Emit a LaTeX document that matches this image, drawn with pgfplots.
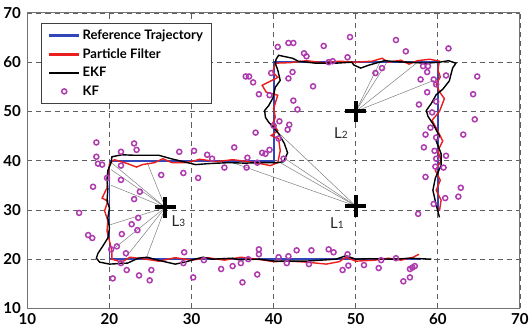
\documentclass[border=0pt]{standalone}
\usepackage{fontspec}
\setmainfont{Lato}
\usepackage{pgfplots}
\pgfplotsset{compat=1.18}
\definecolor{refblue}{RGB}{50,70,185}
\definecolor{pfred}{RGB}{235,30,30}
\definecolor{kfmag}{RGB}{175,60,175}
\definecolor{gridgray}{RGB}{95,95,95}
\pgfplotsset{kflegend/.style={legend image code/.code={\draw[mark repeat=2,mark phase=2,##1] plot coordinates {(0pt,0pt) (15pt,0pt) (30pt,0pt)};}}}
\begin{document}
\begin{tikzpicture}
\begin{axis}[
  width=490pt, height=294pt, scale only axis,
  xmin=10, xmax=70, ymin=10, ymax=70,
  xtick={10,20,...,70}, ytick={10,20,...,70},
  grid=major,
  grid style={gridgray, line width=0.7pt, dash pattern=on 5pt off 4pt},
  major tick length=0pt,
  axis line style={black!55, line width=0.9pt},
  tick label style={font=\fontsize{15}{15}\selectfont\bfseries},
  yticklabel style={xshift=-3pt},
  xticklabel style={yshift=-1pt},
  /pgf/number format/assume math mode=true,
  legend style={at={(0.0286,0.966)}, anchor=north west, draw=black!75, line width=0.8pt,
    font=\fontsize{13}{15}\selectfont\bfseries, row sep=3.5pt, inner xsep=6pt, inner ysep=4.5pt,
    cells={anchor=west}},
  legend image code/.code={\draw[#1, line width=2.5pt] (0pt,0pt) -- (30pt,0pt);},
]
% bearing lines (gray)
\addplot[gray, line width=0.5pt, forget plot] coordinates {(26.8,30.5) (20.3,39.5)};
\addplot[gray, line width=0.5pt, forget plot] coordinates {(26.8,30.5) (20.2,38.2)};
\addplot[gray, line width=0.5pt, forget plot] coordinates {(26.8,30.5) (20.2,35.0)};
\addplot[gray, line width=0.5pt, forget plot] coordinates {(26.8,30.5) (24.6,39.6)};
\addplot[gray, line width=0.5pt, forget plot] coordinates {(26.8,30.5) (20.1,27.0)};
\addplot[gray, line width=0.5pt, forget plot] coordinates {(26.8,30.5) (20.8,22.5)};
\addplot[gray, line width=0.5pt, forget plot] coordinates {(26.8,30.5) (22.0,20.4)};
\addplot[gray, line width=0.5pt, forget plot] coordinates {(26.8,30.5) (24.5,20.3)};
\addplot[gray, line width=0.5pt, forget plot] coordinates {(50,30.8) (40.7,45.5)};
\addplot[gray, line width=0.5pt, forget plot] coordinates {(50,30.8) (41.5,40.3)};
\addplot[gray, line width=0.5pt, forget plot] coordinates {(50,30.8) (40.8,39.6)};
\addplot[gray, line width=0.5pt, forget plot] coordinates {(50,30.8) (35.0,39.6)};
\addplot[gray, line width=0.5pt, forget plot] coordinates {(50,50) (53.0,60.2)};
\addplot[gray, line width=0.5pt, forget plot] coordinates {(50,50) (53.8,60.0)};
\addplot[gray, line width=0.5pt, forget plot] coordinates {(50,50) (57.4,59.8)};
\addplot[gray, line width=0.5pt, forget plot] coordinates {(50,50) (59.5,56.3)};
% reference trajectory
\addplot[refblue, line width=1.8pt] coordinates {
(60,29.5) (60,60) (40,60) (40,40) (20,40) (20,20) (58,20)};
\addlegendentry{Reference Trajectory}
% particle filter
\addplot[pfred, line width=1.4pt] coordinates {
(60.2,29.8) (60.4,32) (59.8,34) (60.3,36) (59.7,38) (60.4,40) (60.0,42) (60.6,44) (60.0,46)
(59.3,48.2) (60.2,50) (60.8,52.6) (60.2,54) (59.8,55.5) (60.3,57) (60.0,58.5) (60.2,60.2)
(59.0,60.6) (57.5,60.3) (56.5,59.6) (55.5,60.4) (54,60.0) (53.2,60.8) (52,60.2) (50,60.0)
(48,60.2) (46,59.9) (44,60.3) (42,59.9) (40.2,59.8) (39.9,58.0) (40.5,56.9) (38.6,55.3)
(39.1,53.9) (40.5,53.3) (40.0,50.6) (40.2,48.8) (39.9,47.6) (40.5,46.1) (39.7,45.1)
(40.6,44.5) (40.8,42.0) (40.5,39.6) (39.6,39.0) (38.4,39.4) (37,39.8) (35,40.2) (33,39.8)
(31,40.3) (30.4,40.0) (29.2,39.6) (27.6,39.6) (26.5,40.4) (25.5,39.6) (24,39.2) (23.3,38.7)
(22.2,39.4) (20.6,40.2) (20.0,39.4) (19.8,36.5) (19.7,34.5) (19.1,32.4) (19.8,31.8)
(19.4,29.8) (19.8,27.8) (19.7,25.7) (20.0,23.7) (20.3,21.6) (20.3,20.0) (21.5,19.4)
(22.5,20.4) (24,20.1) (26,19.6) (28,20.3) (30,19.8) (32,20.3) (34,19.8) (36,20.4) (38,20.0)
(40,19.5) (42,19.6) (44,19.4) (46.4,19.0) (48,19.5) (48.8,20.4) (50,19.6) (52.3,19.8)
(54,20.2) (55.5,19.8) (57,20.4) (57.7,21.0)};
\addlegendentry{Particle Filter}
% EKF
\addplot[black, line width=1.4pt] coordinates {
(60.2,28.5) (59.8,31) (59.4,34) (59.7,36.5) (60.4,39) (60.4,41.4) (59.8,44) (60.2,45)
(59.4,47.5) (58.8,49.0) (58.6,50.2) (59.2,51.6) (59.8,53.4) (60.6,54.5) (61.4,56.2)
(61.8,58.8) (62.2,59.8) (61.3,60.3) (60.2,60.0) (58.6,59.8) (57.4,59.9) (55,60.1)
(53.5,60.3) (51.6,59.4) (50.6,58.8) (49.8,59.4) (49.5,60.0) (47.6,59.8) (45.1,59.8)
(43,60.2) (42.3,60.8) (40.6,61.4) (40.3,60.6) (40.2,59.8) (40.5,58.4) (40.8,56.3)
(40.2,54.9) (39.9,52.7) (39.4,51.2) (38.9,50.2) (39.0,48.8) (39.4,47.8) (40.0,46.7)
(40.6,45.5) (41.3,43.5) (41.7,41.6) (41.2,39.8) (40.5,39.6) (38,39.6) (36.6,39.5)
(34.5,39.6) (32,39.4) (30.5,39.2) (29,39.8) (27.5,40.4) (26,41.1) (23,41.1) (21.5,41.2)
(20.3,40.8) (20.2,39.6) (19.8,38.0) (19.7,36.3) (19.8,34.3) (19.7,31.8) (20.0,30.4)
(19.8,28.4) (20.0,26.3) (19.8,24.3) (19.2,22.7) (18.6,21.2) (18.4,20.2) (18.8,19.4)
(20.0,19.0) (22.2,19.2) (23.5,20.2) (24.6,20.4) (25.9,19.8) (28.0,19.0) (29.2,19.4)
(30.4,20.0) (31.4,20.4) (32.5,20.0) (35.0,20.2) (35.7,19.9) (38.2,20.0) (40.2,19.6)
(43.9,19.6) (47.6,20.0) (48.8,20.7) (50.0,20.0) (51.6,20.1) (54.9,20.0) (56.5,20.2)
(59.2,20.0)};
\addlegendentry{EKF}
% KF
\addplot[only marks, mark=o, mark size=2.5pt, kfmag, line width=1.5pt,
  mark options={fill=kfmag!30}, kflegend]
coordinates {
(18.4,43.7) (18.4,40.8) (18.6,39.4) (19.1,39.2) (21.4,41.8) (23.0,43.5) (23.3,42.2) (21.4,39.0)
(28.5,41.8) (30.3,42.0) (31.9,41.2) (32.5,40.4) (36.8,40.6) (35.2,42.7) (38.6,41.6) (39.0,41.4)
(39.5,42.2) (34.0,38.6) (36.7,38.6) (38.0,39.6) (41.2,40.4)
(19.7,36.5) (18.0,34.7) (16.3,29.4) (17.4,24.9) (17.9,24.3) (21.4,36.1) (26.3,37.1) (29.0,37.5)
(30.8,36.5) (23.7,33.7) (23.0,32.2) (23.5,28.4) (22.7,27.1) (23.4,25.9) (21.5,25.1)
(20.2,22.0) (20.9,22.6) (22.0,21.2) (29.1,21.4)
(21.4,19.2) (22.1,17.8) (23.6,16.7) (25.1,17.8) (24.9,15.7) (20.4,16.1) (30.2,16.3) (29.0,19.2)
(31.5,19.8) (33.6,18.0) (35.0,18.6) (36.0,19.2) (36.2,15.3) (38.0,16.9) (38.2,22.0) (38.2,21.0)
(36.9,20.0)
(40.6,20.4) (41.8,20.6) (42.8,21.8) (44.6,21.8) (46.7,22.0) (47.3,21.4) (49.0,21.0) (41.6,19.2)
(44.3,19.0) (48.4,17.8) (49.1,18.7) (51.0,18.8) (52.8,18.2) (53.1,19.8) (54.9,20.2) (56.6,18.0)
(56.9,18.3) (57.2,18.6) (56.6,16.3) (55.8,15.5)
(58.5,36.7) (59.7,38.8) (60.7,38.6) (62.8,34.5) (62.5,32.7) (60.9,32.4) (59.5,31.2) (57.6,29.2)
(61.0,41.0) (59.8,40.4) (58.3,42.7) (59.6,42.0) (59.8,44.7) (58.5,45.3) (59.1,46.7) (63.1,45.3)
(64.5,48.4) (59.3,49.8) (57.7,51.4) (59.8,52.0) (58.7,53.9) (64.3,53.5) (59.8,55.5) (57.9,56.5)
(59.5,56.5) (61.0,57.3) (64.8,57.1) (58.7,58.0) (58.2,59.2) (58.8,59.2) (61.3,62.8) (56.1,62.2)
(54.9,64.5) (52.4,57.8) (53.2,58.8)
(40.5,63.1) (41.8,63.9) (42.4,63.9) (46.1,63.3) (49.3,65.1) (43.7,61.8) (44.0,61.2) (46.7,60.0)
(47.2,60.2) (49.0,61.0) (39.7,57.8) (42.3,58.0) (41.8,56.7) (44.8,55.1) (42.4,52.2) (42.9,50.4)
(36.6,57.1) (37.0,57.1) (37.5,55.9) (38.2,53.5) (39.5,53.3) (37.8,45.7) (40.7,48.0) (41.9,47.3)
(41.7,46.3) (40.0,47.1) (40.6,44.5)};
\addlegendentry{KF}
% landmarks
\addplot[only marks, mark=+, mark size=10.5pt, line width=4pt, black, forget plot]
coordinates {(50,30.8) (50,50) (26.8,30.5)};
\node[font=\fontsize{15}{15}\selectfont, text=black!85] at (axis cs:28.4,27.8) {L{\fontsize{10}{10}\selectfont 3}};
\node[font=\fontsize{15}{15}\selectfont, text=black!85] at (axis cs:47.7,27.3) {L{\fontsize{10}{10}\selectfont 1}};
\node[font=\fontsize{15}{15}\selectfont, text=black!85] at (axis cs:48.2,45.5) {L{\fontsize{10}{10}\selectfont 2}};
\end{axis}
\path (current bounding box.north) ++(0,4pt);
\end{tikzpicture}
\end{document}
